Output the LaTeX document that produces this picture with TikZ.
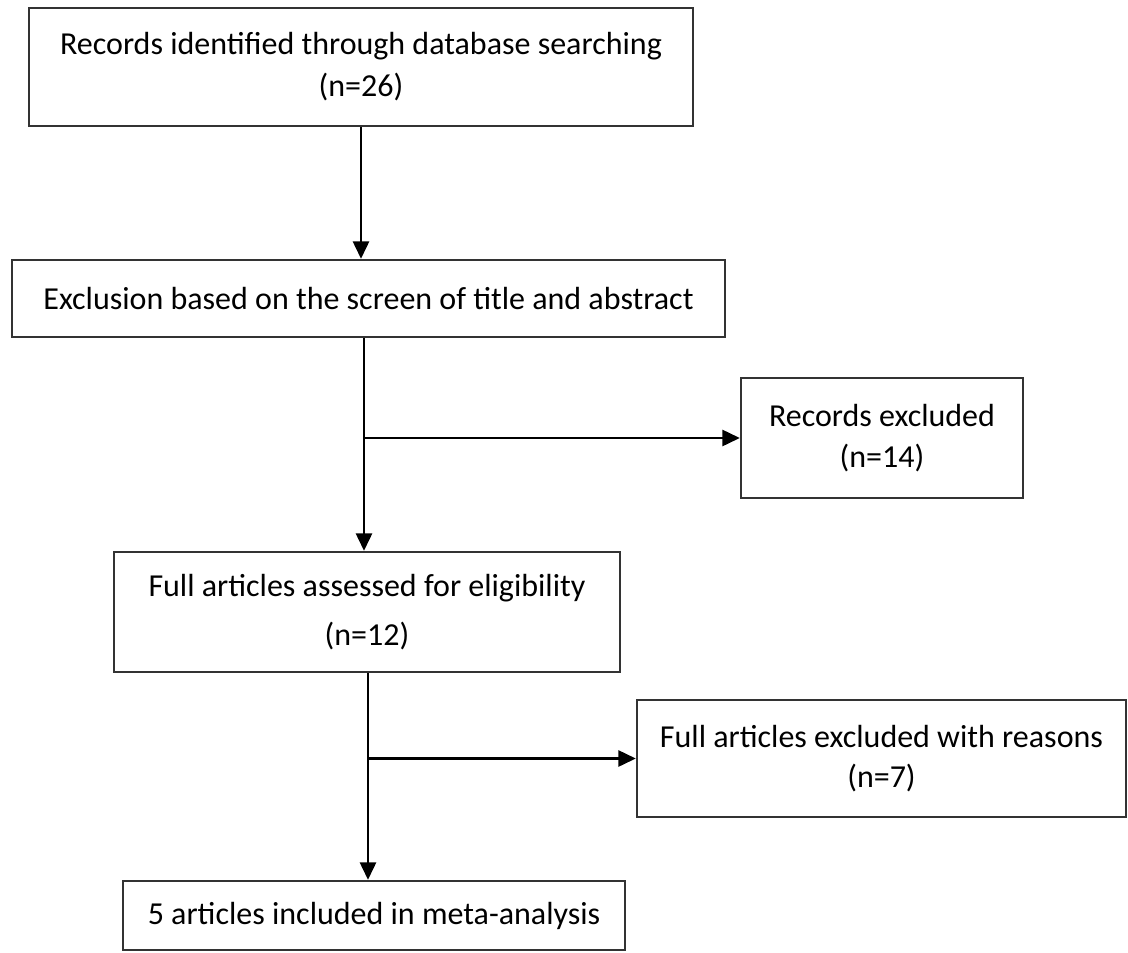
\documentclass[tikz,border=0pt]{standalone}
\usepackage{fontspec}
\setmainfont{Carlito}
\usepackage{tikz}
\usetikzlibrary{arrows.meta,positioning,calc}

\begin{document}
\begin{tikzpicture}[
  x=0.75pt, y=-0.75pt,
  font=\fontsize{24}{30}\selectfont,
  >={Triangle[length=13pt,width=12pt]},
  box/.style={
    draw=black!80,
    line width=1.8pt,
    align=center,
    inner sep=0pt
  },
  arrow/.style={->, line width=1.8pt}
]
  \useasboundingbox (0,0) rectangle (1128,953);

  % boxes
  \node[box, minimum width=664*0.75pt, minimum height=118*0.75pt]
    (rec) at (361,67) {Records identified through database searching\\[1.5pt] (n=26)};
  \node[box, minimum width=713*0.75pt, minimum height=77*0.75pt]
    (scr) at (368.5,298.5) {Exclusion based on the screen of title and abstract};
  \node[box, minimum width=282*0.75pt, minimum height=120*0.75pt]
    (exc) at (882,438) {Records excluded\\[1pt] (n=14)};
  \node[box, minimum width=506*0.75pt, minimum height=120*0.75pt]
    (full) at (367,612) {Full articles assessed for eligibility\\[7pt] (n=12)};
  \node[box, minimum width=489*0.75pt, minimum height=117*0.75pt]
    (fexc) at (881.5,758.5) {Full articles excluded with reasons\\[0pt] (n=7)};
  \node[box, minimum width=502*0.75pt, minimum height=69*0.75pt]
    (incl) at (374,915.5) {5 articles included in meta-analysis};

  % junctions on the trunks
  \coordinate (j1) at (364,0);
  \coordinate (j2) at (368,0);

  % connectors
  \draw[arrow] (rec.south) -- (rec.south |- scr.north);
  \draw[arrow] (j1 |- scr.south) -- (j1 |- full.north);
  \draw[arrow] (j1 |- exc.west) -- (exc.west);
  \draw[arrow] (j2 |- full.south) -- (j2 |- incl.north);
  \draw[arrow] (j2 |- fexc.west) -- (fexc.west);
\end{tikzpicture}
\end{document}
